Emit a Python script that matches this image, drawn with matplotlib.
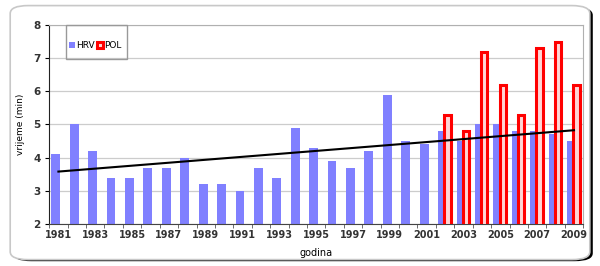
import numpy as np
import matplotlib.pyplot as plt
from matplotlib.patches import FancyBboxPatch, Rectangle

years = list(range(1981, 2010))
hrv = [4.1, 5.0, 4.2, 3.4, 3.4, 3.7, 3.7, 4.0, 3.2, 3.2, 3.0, 3.7, 3.4, 4.9, 4.3,
       3.9, 3.7, 4.2, 5.9, 4.5, 4.4, 4.8, 4.5, 5.0, 5.0, 4.8, 4.8, 4.7, 4.5]
pol_years = list(range(2002, 2010))
pol = [5.3, 4.8, 7.2, 6.2, 5.3, 7.3, 7.5, 6.2]
tick_years = list(range(1981, 2010, 2))

fig = plt.figure(figsize=(6, 2.66), dpi=100)

# rounded frame with dark shadow
shadow = FancyBboxPatch((0.022, 0.018), 0.966, 0.955, boxstyle="round,pad=0,rounding_size=0.03",
                        transform=fig.transFigure, facecolor='black', edgecolor='none', zorder=-2)
frame = FancyBboxPatch((0.017, 0.024), 0.966, 0.955, boxstyle="round,pad=0,rounding_size=0.03",
                       transform=fig.transFigure, facecolor='white', edgecolor='#c8c8c8',
                       linewidth=1.2, zorder=-1)
fig.patches.extend([shadow, frame])

ax = fig.add_axes([0.082, 0.158, 0.89, 0.748])
ax.set_zorder(2)
ax.set_facecolor('none')

x = np.arange(len(years))
ax.bar(x - 0.14, hrv, width=0.48, bottom=0, color='#8080ff', zorder=2, label='HRV')
xp = np.array([years.index(y) for y in pol_years])
ax.bar(xp + 0.13, pol, width=0.34, color='#ffd6d6', edgecolor='#ff0000',
       linewidth=2.2, zorder=3, label='POL')

k, b = np.polyfit(x, hrv, 1)
ax.plot([x[0], x[-1]], [k * x[0] + b, k * x[-1] + b], color='black', lw=1.5, zorder=4)

ax.set_ylim(2, 8)
ax.set_xlim(-0.5, len(years) - 0.5)
ax.set_yticks(range(2, 9))
ax.set_xticks([years.index(y) for y in tick_years])
ax.set_xticklabels(tick_years)
ax.set_xticks(np.arange(len(years) + 1) - 0.5, minor=True)
ax.tick_params(axis='x', which='major', length=0, labelsize=7, pad=4)
ax.tick_params(axis='x', which='minor', length=3, color='#555555')
ax.tick_params(axis='y', length=3, labelsize=7.5, pad=3)
for lab in ax.get_xticklabels() + ax.get_yticklabels():
    lab.set_fontweight('bold')
    lab.set_color('#333333')

ax.yaxis.grid(True, color='#cccccc', lw=0.9, zorder=1)
ax.set_axisbelow(True)
ax.spines['left'].set_color('#222222')
ax.spines['bottom'].set_color('#444444')
ax.spines['top'].set_color('#b0b0b0')
ax.spines['right'].set_color('#b0b0b0')

ax.set_ylabel('vrijeme (min)', fontsize=6.5, labelpad=6)
ax.set_xlabel('godina', fontsize=7, labelpad=6)

# legend box attached to top of plot
ax.add_patch(Rectangle((0.032, 0.83), 0.113, 0.17, transform=ax.transAxes, fill=False,
                       edgecolor='#999999', lw=1, zorder=5, clip_on=False))
ax.legend(loc='upper left', bbox_to_anchor=(0.025, 0.95), ncol=2, frameon=False,
          fontsize=6.5, handlelength=0.7, handleheight=0.7, handletextpad=0.1,
          columnspacing=0.2, borderpad=0.2)

fig.savefig('out.png', dpi=100)
